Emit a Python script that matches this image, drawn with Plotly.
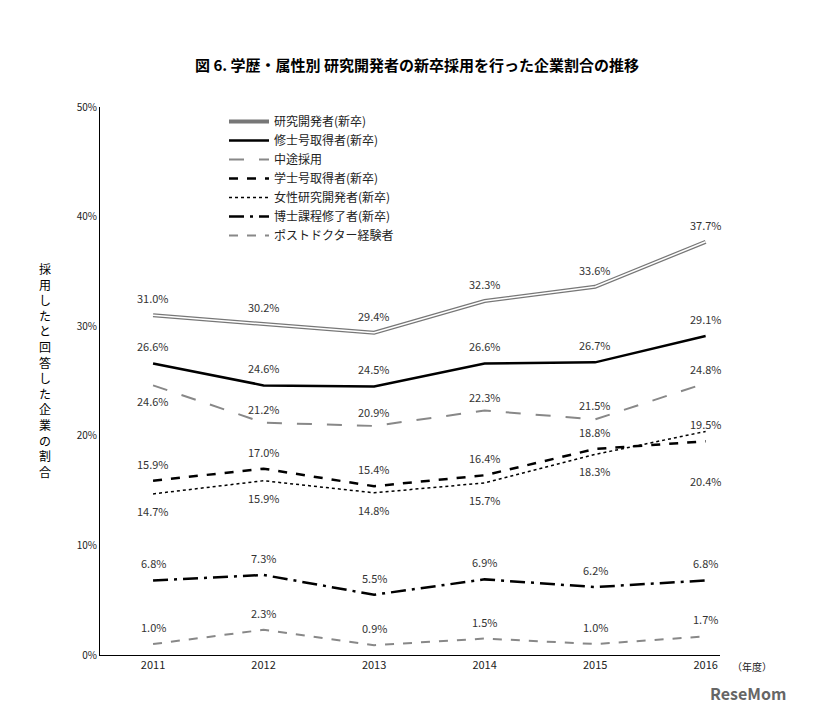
import plotly.graph_objects as go

years = [2011, 2012, 2013, 2014, 2015, 2016]
names = ["研究開発者(新卒)", "修士号取得者(新卒)", "中途採用", "学士号取得者(新卒)",
         "女性研究開発者(新卒)", "博士課程修了者(新卒)", "ポストドクター経験者"]
researcher = [31.0, 30.2, 29.4, 32.3, 33.6, 37.7]
master = [26.6, 24.6, 24.5, 26.6, 26.7, 29.1]
midcareer = [24.6, 21.2, 20.9, 22.3, 21.5, 24.8]
bachelor = [15.9, 17.0, 15.4, 16.4, 18.8, 19.5]
female = [14.7, 15.9, 14.8, 15.7, 18.3, 20.4]
doctor = [6.8, 7.3, 5.5, 6.9, 6.2, 6.8]
postdoc = [1.0, 2.3, 0.9, 1.5, 1.0, 1.7]

series = [researcher, master, midcareer, bachelor, female, doctor, postdoc]
styles = [
    dict(color="#777777", width=4, dash="solid"),
    dict(color="black", width=2.5, dash="solid"),
    dict(color="#888888", width=2, dash="longdash"),
    dict(color="black", width=2.5, dash="dash"),
    dict(color="black", width=1.5, dash="dot"),
    dict(color="black", width=2.5, dash="longdashdot"),
    dict(color="#888888", width=2, dash="dash"),
]
# label offsets in pixels (positive = above the line)
shifts = [
    [17] * 6,
    [17] * 6,
    [-16, 14, 14, 14, 14, 14],
    [17, 17, 17, 17, 17, 17],
    [-17, -17, -17, -17, -17, -50],
    [17] * 6,
    [17] * 6,
]

fig = go.Figure()
annotations = []
for i, (n, v) in enumerate(zip(names, series)):
    fig.add_trace(go.Scatter(x=years, y=v, name=n, mode="lines", line=styles[i]))
    if i == 0:
        fig.add_trace(go.Scatter(x=years, y=v, mode="lines", showlegend=False,
                                 line=dict(color="white", width=1.5), hoverinfo="skip"))
    for x, y, s in zip(years, v, shifts[i]):
        annotations.append(dict(x=x, y=y, text=f"{y:.1f}%", showarrow=False, yshift=s,
                                font=dict(size=11, color="#333333")))

annotations += [
    dict(text="<br>".join("採用したと回答した企業の割合"), x=0, y=0.52, xref="paper",
         yref="paper", xanchor="center", showarrow=False, font=dict(size=12, color="black"),
         xshift=-55),
    dict(text="（年度）", x=1.0, y=0, xref="paper", yref="paper", xanchor="left",
         yanchor="top", yshift=-2, xshift=10, showarrow=False, font=dict(size=10)),
    dict(text="<b>ReseMom</b>", x=1.0, y=0, xref="paper", yref="paper", xanchor="left",
         yanchor="top", yshift=-24, xshift=-12, showarrow=False,
         font=dict(size=16, color="#666666")),
]

fig.update_layout(
    width=818, height=705, plot_bgcolor="white", paper_bgcolor="white",
    margin=dict(l=92, r=106, t=99, b=58),
    font=dict(family="Noto Sans CJK JP", color="#222222"),
    title=dict(text="<b>図 6. 学歴・属性別 研究開発者の新卒採用を行った企業割合の推移</b>",
               x=0.5, y=0.925, xanchor="center", font=dict(size=15, color="black")),
    legend=dict(x=0.2, y=1.0, xanchor="left", yanchor="top", bgcolor="rgba(0,0,0,0)",
                font=dict(size=12), tracegroupgap=0, itemwidth=40),
    xaxis=dict(range=[2010.52, 2016.13], tickvals=years, showline=True, linecolor="black",
               ticks="", showgrid=False, zeroline=False, tickfont=dict(size=11)),
    yaxis=dict(range=[0, 50], tickvals=[0, 10, 20, 30, 40, 50],
               ticktext=["0%", "10%", "20%", "30%", "40%", "50%"],
               showline=True, linecolor="black", ticks="", showgrid=False, zeroline=False,
               tickfont=dict(size=10)),
    annotations=annotations,
)
fig.write_html("out.html")
